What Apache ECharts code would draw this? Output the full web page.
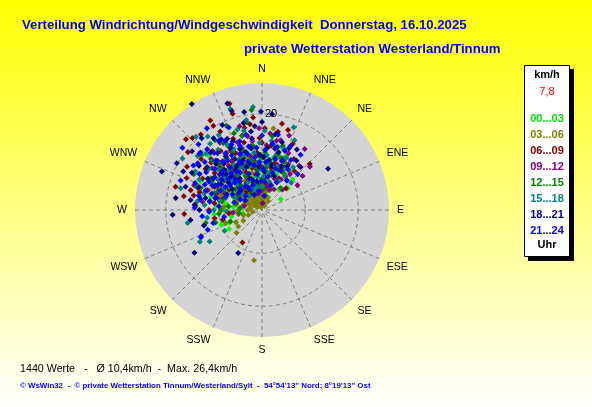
<!DOCTYPE html>
<html><head><meta charset="utf-8">
<script src="https://cdn.jsdelivr.net/npm/echarts@6/dist/echarts.min.js"></script>
<style>html,body{margin:0;padding:0;background:#fff;}#c{width:592px;height:407px;}</style>
</head><body><div id="c"></div>
<script>
// ---- data ----
const directions = ['N','NNE','NE','ENE','E','ESE','SE','SSE','S','SSW','SW','WSW','W','WNW','NW','NNW'];
const timeGroups = ['00...03','03...06','06...09','09...12','12...15','15...18','18...21','21...24'];
const ringValues = [9, 20];
const ringLabel = 20;
const titleText = 'Verteilung Windrichtung/Windgeschwindigkeit  Donnerstag, 16.10.2025';
const subtitleText = 'private Wetterstation Westerland/Tinnum';
const statsText = '1440 Werte   -   Ø 10,4km/h  -  Max. 26,4km/h';
const footerText = '© WsWin32  -  © private Wetterstation Tinnum/Westerland/Sylt  -  54°54\'13" Nord; 8°19\'13" Ost';
const currentSpeed = '7,8';
const speedMax = 26.4;
// points: [direction in degrees, speed km/h]
const h00_03 = [[248.5,7.3],[24,12.4],[13,2.8],[264,6.6],[240,7.9],[245,6],[315.5,15.9],[300,8],[310,7],[320,6],[330,5],[340,4],[350,5.5],[0,4.5],[10,6],[20,5],[30,7],[40,5.5],[290,6],[280,7.5],[270,5],[255,8.5],[260,4],[305,10],[315,9.5],[325,10.5],[335,8.5],[345,9],[355,7.5],[5,9.5],[15,8.5],[35,10],[300,12],[312,12.5],[322,13],[332,12],[342,11.5],[352,13],[285,11],[295,14],[308,4],[328,3],[8,3.5],[275,9.5],[265,10],[318,3.5],[345,2.5],[25,3],[50,7],[60,4.5],
 [296,5],[302,6.5],[314,5.5],[324,7.5],[334,6.5],[344,7],[354,3.5],[4,6.5],[14,4],[22,8],[286,8.5],[276,6],[268,7.5],[258,6.5],[250,9],[306,8.5],[318,8],[338,10],[348,11.5],[358,10.5],[12,11],[28,9.5],[292,9.5],[282,4],[326,4.5],[336,2],[300,3],[45,9],[18,13.5],[2,12.5]];
const h03_06 = [[8,17.1],[228.5,7.1],[189,10.6],[273,13.8],[282,13.2],[330,2],[340,2.5],[350,1.5],[355,3],[0,2],[5,1],[10,2.5],[20,1.5],[30,1],[320,3],[310,2.5],[300,2],[290,3.5],[280,2.5],[270,3],[315,3.8],[325,4],[335,3.5],[345,4.2],[352,0.8],[300,4.5],[285,4],[275,4.5],[260,2],[250,3],[325,1],[310,1.2],[340,0.6],[15,3],[25,2.8],[35,2.2],[305,5.5],[295,6.5],[320,6],[338,5.5],[350,6],[2,5],[315,8],[330,9],[290,9],[275,8],[260,5],[245,6],[345,11],[355,13],
 [318,4.5],[328,5],[342,3],[348,2],[358,1.8],[12,4],[22,4.5],[295,3],[305,3.5],[312,5],[322,2.2],[332,3],[282,5.5],[268,5],[255,4],[240,4.5],[300,7],[310,6.5],[330,7],[345,8],[0,6.5],[15,5.5],[290,5.5],[335,1.5],[315,1.8],[300,1.3],[5,3.8],[265,6.5],[250,8],[235,6]];
const h06_09 = [[343,23.1],[343,20.9],[354.5,19.3],[11.5,16.6],[13,18.4],[46,13.8],[313,21.6],[316,20.8],[330,21.5],[330,20.2],[321,20.2],[285,18.6],[267,16.2],[285.5,15.4],[211,7.9],[48,6.7],[28,7.5],[256,8.4],[264.5,7],[18,17.5],[25,15.2],[2,17],[348,17.5],[338,16],[325,15],[318,17],[310,16.5],[300,18],[293,17],[280,16.5],[275,14],[290,12],[305,11],[315,12.5],[325,10],[335,13],[345,14.5],[355,12],[8,13.5],[15,10],[35,8.5],[300,6],[320,5],[340,9.5],[350,7.5],[5,7],[270,11],[260,10],[332,18.5],[308,19.5],[298,14],[286,13.5],[312,9],[328,12],[358,15],[22,11.5],[322,8],[296,9.5],
 [318,13.8],[323,11.5],[333,10.8],[340,11.5],[347,9],[352,10],[2,11],[12,9],[302,8],[308,12.5],[296,11],[290,15],[282,14.5],[278,10],[313,14.5],[328,14],[337,8.5],[342,6],[10,5.5],[25,9.5],[32,12.5],[40,10.5],[306,14.5],[320,16],[345,16],[352,18],[0,14],[318,6.8],[330,4],[285,8.5]];
const h09_12 = [[48,13.4],[19,9.2],[5,1.4],[283,3.8],[289,14.2],[349,15.6],[12,14.7],[30,11],[38,9.5],[25,13],[15,12],[8,10.5],[0,9],[355,11.5],[350,13.5],[344,10],[338,12.5],[332,14],[326,11],[320,9],[314,12],[308,10],[300,13],[294,8.5],[340,7],[350,5.5],[2,6],[12,5],[22,7],[45,6],[55,9],[35,15.5],[20,16.5],[358,17],[345,18],[328,16.5],[315,15],[305,7.5],[290,10],[278,12.5],[265,6],[330,6.5],[15,8],[28,9],[4,13.5],[352,8.5],[336,9.5],[318,6],
 [5,8],[10,7],[18,10],[24,11.5],[32,7.5],[40,12],[0,11],[356,9.5],[348,11.5],[342,13.5],[335,7.5],[325,9],[320,12.5],[310,13.5],[298,10.5],[285,9.5],[348,3.5],[358,4],[10,3],[20,4.5],[30,5],[40,8],[50,11],[15,15],[6,16],[340,15],[330,12],[300,5.5],[312,8.5],[352,14.5]];
const h12_15 = [[354,20.9],[297.6,16],[257,12],[31,8.9],[275,4.6],[262,4.8],[340,17],[332,15],[325,13],[318,11],[310,9.5],[302,12.5],[295,10],[288,8],[315,14.5],[328,9],[335,11.5],[342,13],[348,10.5],[355,8.5],[3,12],[10,10],[18,14],[25,11],[40,6],[320,6.5],[305,5.5],[290,13.5],[280,11],[270,8.5],[250,7],[345,16],[350,18.5],[337,19],[326,17.5],[312,17],[300,15],[0,6.5],[8,15.5],[15,7.5],[330,5],[338,7.5],[322,8.5],[308,7],[296,6],[284,5.5],[352,13.5],[6,9],[333,13.5],[316,12],[343,9.5],[20,11.5],
 [305,8],[312,10.5],[320,9.5],[328,11],[334,8],[340,10],[346,12],[352,9],[358,11],[4,10],[12,8],[16,12],[22,9],[30,10.5],[298,9],[290,10.5],[282,8.5],[276,7],[265,9],[255,10],[315,7],[325,5.5],[335,4],[345,6],[355,5],[5,4.5],[318,13],[308,14],[300,12],[330,16]];
const h15_18 = [[342.6,22],[21,18.4],[25,16],[47,8.3],[303,19.7],[260,15.7],[243,14.5],[239,12.7],[241,8.9],[323.6,19],[347,16.9],[335,14],[328,11],[320,13],[312,10],[305,8.5],[298,12],[290,14.5],[282,9],[315,16.5],[330,18],[338,9.5],[345,12.5],[352,7],[358,14],[5,11.5],[12,13.5],[18,9.5],[30,7],[36,11],[325,6],[310,5],[295,6.5],[340,4.5],[0,5],[15,6],[318,7.5],[308,14],[300,16],[285,17.5],[275,12],[268,7.5],[332,15.5],[322,17.5],[350,19],[2,16.5],[326,9],[313,12.5],[336,11.5],[354,10],[8,8],[25,12],[302,10.5],[288,11],[318,20.5],[355,21.5],
 [300,9],[306,11],[314,8.5],[320,10.5],[326,13],[332,10],[340,12],[346,9.5],[352,12],[358,8.5],[6,9.5],[14,11.5],[20,13.5],[28,10],[34,8.5],[292,8],[286,12.5],[278,13.5],[270,10],[262,11.5],[316,14],[324,15.5],[343,17.5],[8,14.5],[318,4],[333,6.5],[348,5],[3,7],[296,14.5],[310,17.5]];
const h18_21 = [[326.5,26.4],[291,22.3],[298.7,20.2],[296,18.2],[267,18.6],[278,18.1],[287,16.6],[237.7,16.6],[209,10.2],[246.6,13.8],[349.7,20.7],[359.4,20.5],[58,16.2],[342,23.3],[16.5,14.7],[23.7,14],[0,18.3],[335,19.5],[330,17],[322,15],[315,13.5],[310,11.5],[305,16],[300,13],[318,9.5],[325,8],[332,12],[340,13.5],[345,10],[352,15],[355,17.5],[5,13],[10,16],[14,11],[30,10.5],[338,7],[328,5.5],[312,6],[294,8],[282,12],[274,14],[262,15],[255,12.5],[350,6],[3,8],[20,7.5],[42,12],[348,18.5],[320,19.5],[313,17.5],[337,15.5],[343,21.5],[6,20],[308,14.5],[302,10],[330,10.5],[317,11.5],[326,13.5],[358,11.5],[12,9.5],
 [303,12],[309,9],[315,10.5],[321,12.5],[327,10],[333,14.5],[339,11],[344,12.5],[350,13],[356,9],[2,11],[8,10.5],[16,12.5],[24,10],[35,12.5],[298,11],[290,14],[284,10],[278,15],[270,13],[318,16],[326,18],[334,16.5],[352,16.5],[12,13],[298,16.5],[310,19],[305,7.5],[340,9.5],[30,14.5]];
const h21_24 = [[317,14.1],[308,8.4],[289,12.4],[341,14.1],[332,16.3],[21,13.2],[246,13.9],[300,10.5],[305,12],[312,11],[320,10],[325,12.5],[330,9],[322,7.5],[315,6.5],[298,7],[295,9.5],[285,10],[280,13],[292,15],[310,15.5],[318,17],[327,14],[335,11],[340,8],[345,12],[350,9.5],[355,13],[5,10],[10,7],[15,11],[25,9],[30,12],[0,15.5],[348,16],[338,18.5],[316,19],[303,17],[290,18],[275,9],[268,11],[260,8],[255,10.5],[250,12],[310,4.5],[330,5],[350,4],[20,5.5],[40,8],[45,10.5],[35,14],[12,16],[326,20.5],[308,21],[300,4],[285,6],[333,3.5],[343,6.5],[8,3],[358,6],[321,13],[313,9.5],[296,11.5],[304,14],[336,10.5],[342,15],[352,11],[2,8.5],[18,9],[28,6.5],
 [298,12.5],[302,9],[307,10.5],[311,13],[315,11.5],[319,8.5],[323,11],[327,9.5],[331,13],[335,15],[339,12.5],[344,10.5],[348,13.5],[353,7.5],[357,10],[3,12.5],[9,14],[16,8],[22,11],[33,10],[288,11],[283,13.5],[294,13],[300,15],[306,16.5],[312,17.5],[320,15.5],[328,17],[290,8],[279,11],[272,14],[264,12.5],[315,8],[325,6],[340,5.5],[5,6],[14,13.5],[24,14.5],[307,6],[296,5]];
const groupData = [h00_03,h03_06,h06_09,h09_12,h12_15,h15_18,h18_21,h21_24];

// ---- styles ----
const groupColors = ['#00ff00','#808000','#800000','#800080','#008000','#008080','#000080','#0000ff'];
const legendTextColors = ['#00e000','#808000','#800000','#800080','#008000','#008080','#000080','#0000ff'];
const FONT = '"Liberation Sans", Arial, sans-serif';
const C = [262, 210], R = 127;
const dash = {color:'#808080', type:[4,3], width:1};
const off = {show:false};

const chart = echarts.init(document.getElementById('c'), null, {renderer:'canvas'});

const series = groupData.map((d, i) => ({
  name: timeGroups[i],
  type: 'scatter',
  coordinateSystem: 'polar',
  polarIndex: 1,
  symbol: 'diamond',
  symbolSize: 6,
  silent: true,
  z: 3,
  itemStyle: {color: groupColors[i], opacity: 1},
  emphasis: {disabled: true},
  data: d.map(p => [p[1], p[0]])
}));

const legendGraphics = [
  {type:'rect', shape:{x:528, y:69, width:46, height:192}, style:{fill:'#000'}},
  {type:'rect', shape:{x:524.5, y:65.5, width:45, height:191}, style:{fill:'#fff', stroke:'#000', lineWidth:1}},
  {type:'text', x:547, y:75, style:{text:'km/h', fill:'#000', font:'bold 11px '+FONT, align:'center', verticalAlign:'middle'}},
  {type:'text', x:547, y:92, style:{text:currentSpeed, fill:'#ff0000', font:'11px '+FONT, align:'center', verticalAlign:'middle'}},
  {type:'text', x:547, y:245, style:{text:'Uhr', fill:'#000', font:'bold 11px '+FONT, align:'center', verticalAlign:'middle'}}
];
timeGroups.forEach((t, i) => {
  legendGraphics.push({type:'text', x:547, y:118.5 + i*16, style:{text:t, fill:legendTextColors[i], font:'bold 11px '+FONT, align:'center', verticalAlign:'middle'}});
});

const angleBase = {type:'value', min:0, max:360, interval:22.5, startAngle:90, clockwise:true, axisLine:off, axisTick:off};
const option = {
  animation: false,
  backgroundColor: {type:'linear', x:0, y:0, x2:0, y2:1, colorStops:[{offset:0,color:'#ffff00'},{offset:1,color:'#ffffff'}]},
  polar: [
    {center:C, radius:R},
    {center:C, radius:R},
    {center:C, radius:R}
  ],
  angleAxis: [
    Object.assign({}, angleBase, {polarIndex:0, z:0, axisLabel:off, splitLine:off,
      splitArea:{show:true, areaStyle:{color:['#d4d4d4']}}}),
    Object.assign({}, angleBase, {polarIndex:1, z:1, splitArea:off,
      axisLabel:{show:true, margin:8, color:'#000', fontSize:10.5, fontFamily:FONT,
        formatter: v => directions[Math.round(v/22.5) % 16]},
      splitLine:{show:true, lineStyle:dash}}),
    Object.assign({}, angleBase, {polarIndex:2, z:10, axisLabel:off, splitLine:off, splitArea:off})
  ],
  radiusAxis: [
    {polarIndex:0, type:'value', min:0, max:speedMax, z:0, axisLine:off, axisTick:off, axisLabel:off, splitLine:off},
    {polarIndex:1, type:'value', min:0, max:speedMax, z:1, axisLine:off,
      axisTick:{show:false, customValues: ringValues}, axisLabel:off,
      splitLine:{show:true, lineStyle:dash}},
    {polarIndex:2, type:'value', min:0, max:speedMax, interval:10, z:10, axisLine:off, axisTick:off, splitLine:off,
      axisLabel:{show:true, showMinLabel:true, showMaxLabel:true, hideOverlap:false, margin:-3, align:'left', verticalAlign:'middle',
        color:'#000', fontSize:11, fontFamily:FONT,
        formatter: v => (v === ringLabel ? String(v) : '')}}
  ],
  series: series,
  graphic: [
    {type:'text', x:22, y:25.5, style:{text:titleText, fill:'#0000ff', font:'bold 13.2px '+FONT, verticalAlign:'middle'}},
    {type:'text', x:244, y:49.5, style:{text:subtitleText, fill:'#0000ff', font:'bold 13.2px '+FONT, verticalAlign:'middle'}},
    {type:'text', x:20, y:369, style:{text:statsText, fill:'#000', font:'10.7px '+FONT, verticalAlign:'middle'}},
    {type:'text', x:20, y:386, style:{text:footerText, fill:'#0000ff', font:'bold 7.9px '+FONT, verticalAlign:'middle'}}
  ].concat(legendGraphics)
};
chart.setOption(option);
</script>
</body></html>
